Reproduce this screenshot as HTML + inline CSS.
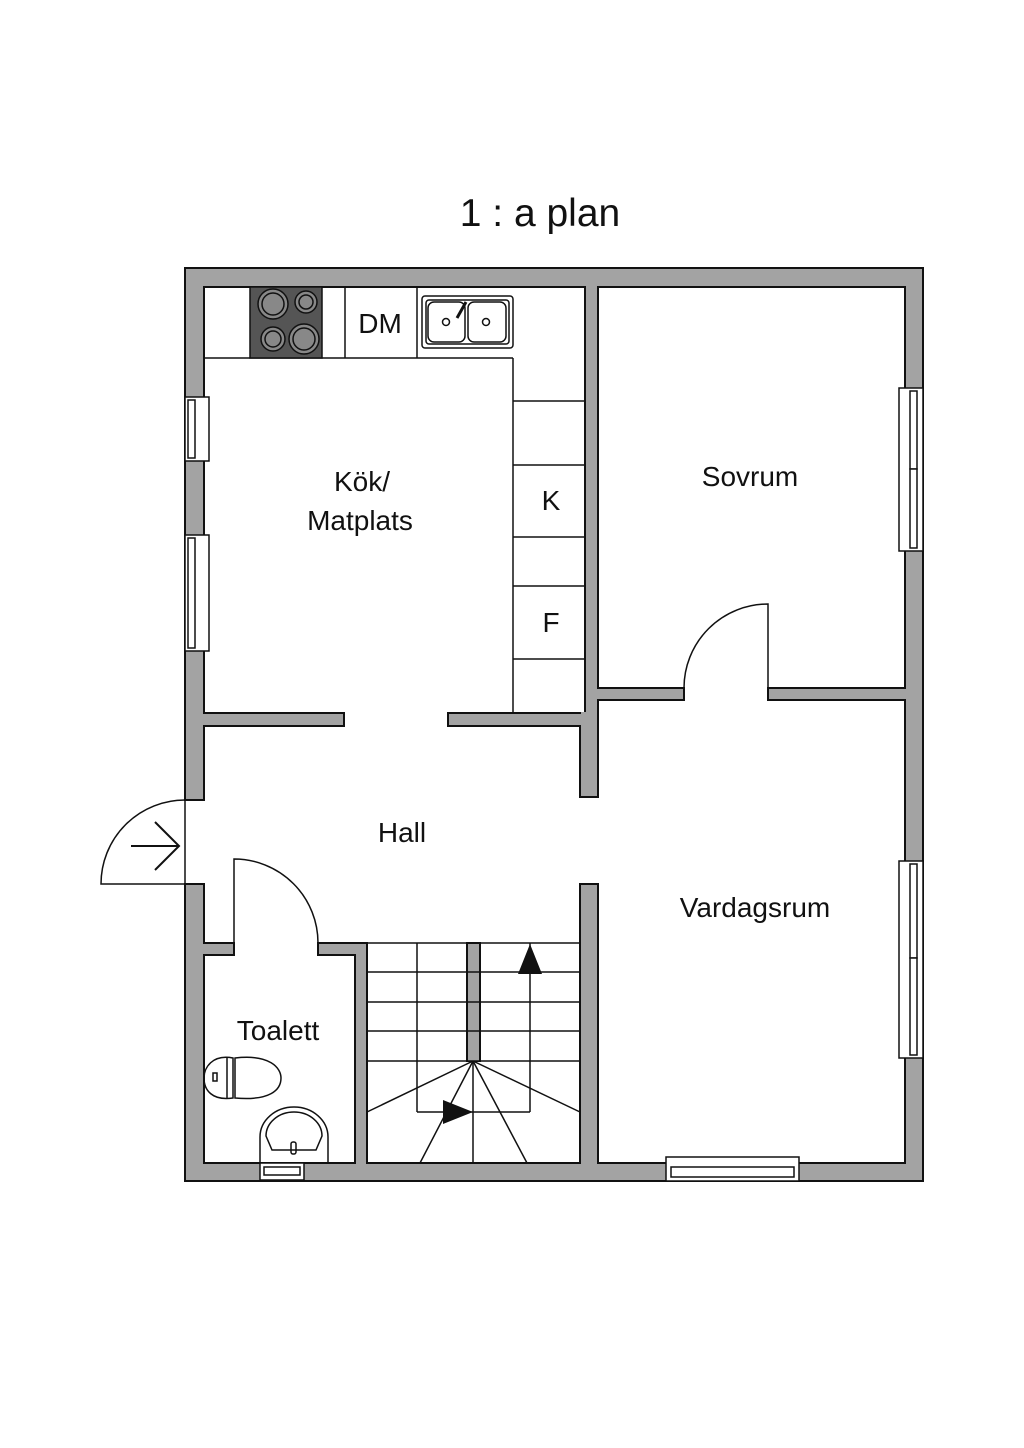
<!DOCTYPE html>
<html><head><meta charset="utf-8"><style>
html,body{margin:0;padding:0;background:#fff;}
svg{display:block;}
text{font-family:"Liberation Sans",sans-serif;fill:#111;}
</style></head><body>
<svg width="1024" height="1448" viewBox="0 0 1024 1448" xmlns="http://www.w3.org/2000/svg">
<text x="540" y="226" font-size="39" text-anchor="middle">1 : a plan</text>

<g fill="#a3a3a3" stroke="#111" stroke-width="2">
<rect x="185" y="268" width="738" height="19"/>
<rect x="185" y="1163" width="738" height="18"/>
<rect x="185" y="268" width="19" height="532"/>
<rect x="185" y="884" width="19" height="297"/>
<rect x="905" y="268" width="18" height="913"/>
<rect x="585" y="287" width="13" height="427"/>
<rect x="580" y="714" width="18" height="83"/>
<rect x="580" y="884" width="18" height="279"/>
<rect x="598" y="688" width="86" height="12"/>
<rect x="768" y="688" width="137" height="12"/>
<rect x="204" y="713" width="140" height="13"/>
<rect x="448" y="713" width="137" height="13"/>
<rect x="204" y="943" width="30" height="12"/>
<rect x="318" y="943" width="49" height="12"/>
<rect x="355" y="943" width="12" height="220"/>
<rect x="467" y="943" width="13" height="118"/>
</g>
<g fill="#a3a3a3">
<rect x="186" y="269" width="736" height="17"/>
<rect x="186" y="1164" width="736" height="16"/>
<rect x="186" y="269" width="17" height="530"/>
<rect x="186" y="885" width="17" height="295"/>
<rect x="906" y="269" width="16" height="911"/>
<rect x="586" y="286" width="11" height="427"/>
<rect x="581" y="712" width="16" height="84"/>
<rect x="581" y="885" width="16" height="279"/>
<rect x="586" y="689" width="97" height="10"/>
<rect x="769" y="689" width="137" height="10"/>
<rect x="203" y="714" width="140" height="11"/>
<rect x="449" y="714" width="137" height="11"/>
<rect x="203" y="944" width="30" height="10"/>
<rect x="319" y="944" width="47" height="10"/>
<rect x="356" y="944" width="10" height="220"/>
<rect x="468" y="944" width="11" height="117"/>
</g>

<g fill="#fff" stroke="#111" stroke-width="1.5">
<rect x="185" y="397" width="24" height="64"/>
<rect x="188" y="400" width="7" height="58"/>
<rect x="185" y="535" width="24" height="116"/>
<rect x="188" y="538" width="7" height="110"/>
<rect x="899" y="388" width="24" height="163"/>
<rect x="910" y="391" width="7" height="78"/><rect x="910" y="469" width="7" height="79"/>
<rect x="899" y="861" width="24" height="197"/>
<rect x="910" y="864" width="7" height="94"/><rect x="910" y="958" width="7" height="97"/>
<rect x="666" y="1157" width="133" height="24"/>
<rect x="671" y="1167" width="123" height="10"/>
<rect x="260" y="1163" width="44" height="17"/>
<rect x="264" y="1167" width="36" height="8"/>
</g>

<g fill="none" stroke="#111" stroke-width="1.5">
<line x1="204" y1="358" x2="513" y2="358"/>
<line x1="513" y1="358" x2="513" y2="713"/>
<line x1="513" y1="401" x2="585" y2="401"/>
<line x1="513" y1="465" x2="585" y2="465"/>
<line x1="513" y1="537" x2="585" y2="537"/>
<line x1="513" y1="586" x2="585" y2="586"/>
<line x1="513" y1="659" x2="585" y2="659"/>
<line x1="345" y1="287" x2="345" y2="358"/>
<line x1="417" y1="287" x2="417" y2="358"/>
<rect x="422" y="296" width="91" height="52" rx="3"/>
<rect x="426" y="300" width="83" height="44" rx="3"/>
<rect x="428" y="302" width="37" height="40" rx="6"/>
<rect x="468" y="302" width="38" height="40" rx="6"/>
<circle cx="446" cy="322" r="3.5"/><circle cx="486" cy="322" r="3.5"/>
<line x1="457" y1="318" x2="466" y2="302" stroke-width="3"/>
<path d="M185 800 A84 84 0 0 0 101 884 L185 884"/>
<line x1="185" y1="800" x2="185" y2="884"/>
<path d="M131 846 L179 846 M155 822 L179 846 L155 870" stroke-width="2"/>
<path d="M768 688 L768 604 A84 84 0 0 0 684 688"/>
<path d="M234 943 L234 859 A84 84 0 0 1 318 943"/>
<rect x="367" y="943" width="213" height="220"/>
<line x1="367" y1="972" x2="580" y2="972"/>
<line x1="367" y1="1002" x2="580" y2="1002"/>
<line x1="367" y1="1031" x2="580" y2="1031"/>
<line x1="367" y1="1061" x2="580" y2="1061"/>
<line x1="417" y1="943" x2="417" y2="1112"/>
<line x1="530" y1="943" x2="530" y2="1112"/>
<line x1="417" y1="1112" x2="530" y2="1112"/>
<line x1="473" y1="1061" x2="367" y2="1112"/>
<line x1="473" y1="1061" x2="420" y2="1163"/>
<line x1="473" y1="1061" x2="473" y2="1163"/>
<line x1="473" y1="1061" x2="527" y2="1163"/>
<line x1="473" y1="1061" x2="580" y2="1112"/>
<path d="M235 1058 C270 1054 281 1068 281 1078 C281 1090 270 1101 235 1098 Z"/>
<path d="M233 1058 C212 1054 204 1068 204 1078 C204 1090 212 1101 233 1098 Z"/>
<path d="M227 1058 L227 1098"/>
<rect x="213" y="1073" width="4" height="8"/>
<path d="M260 1163 L260 1137 A34 30 0 0 1 328 1137 L328 1163"/>
<path d="M266 1136 A28 24 0 0 1 322 1136 L316 1150 L272 1150 Z"/>
<rect x="291" y="1142" width="5" height="12" rx="2"/>
</g>
<g fill="#111">
<polygon points="530,944 518,974 542,974"/>
<polygon points="443,1100 443,1124 473,1112"/>
</g>
<rect x="250" y="287" width="72" height="71" fill="#555" stroke="#111" stroke-width="1.5"/>
<g fill="#888" stroke="#111" stroke-width="1.5">
<circle cx="273" cy="304" r="15"/><circle cx="273" cy="304" r="11"/>
<circle cx="306" cy="302" r="11"/><circle cx="306" cy="302" r="7"/>
<circle cx="273" cy="339" r="12"/><circle cx="273" cy="339" r="8"/>
<circle cx="304" cy="339" r="15"/><circle cx="304" cy="339" r="11"/>
</g>

<g font-size="28" text-anchor="middle">
<text x="380" y="333">DM</text>
<text x="362" y="491">Kök/</text>
<text x="360" y="530">Matplats</text>
<text x="551" y="510">K</text>
<text x="551" y="632">F</text>
<text x="750" y="486">Sovrum</text>
<text x="402" y="842">Hall</text>
<text x="755" y="917">Vardagsrum</text>
<text x="278" y="1040">Toalett</text>
</g>
</svg>
</body></html>
